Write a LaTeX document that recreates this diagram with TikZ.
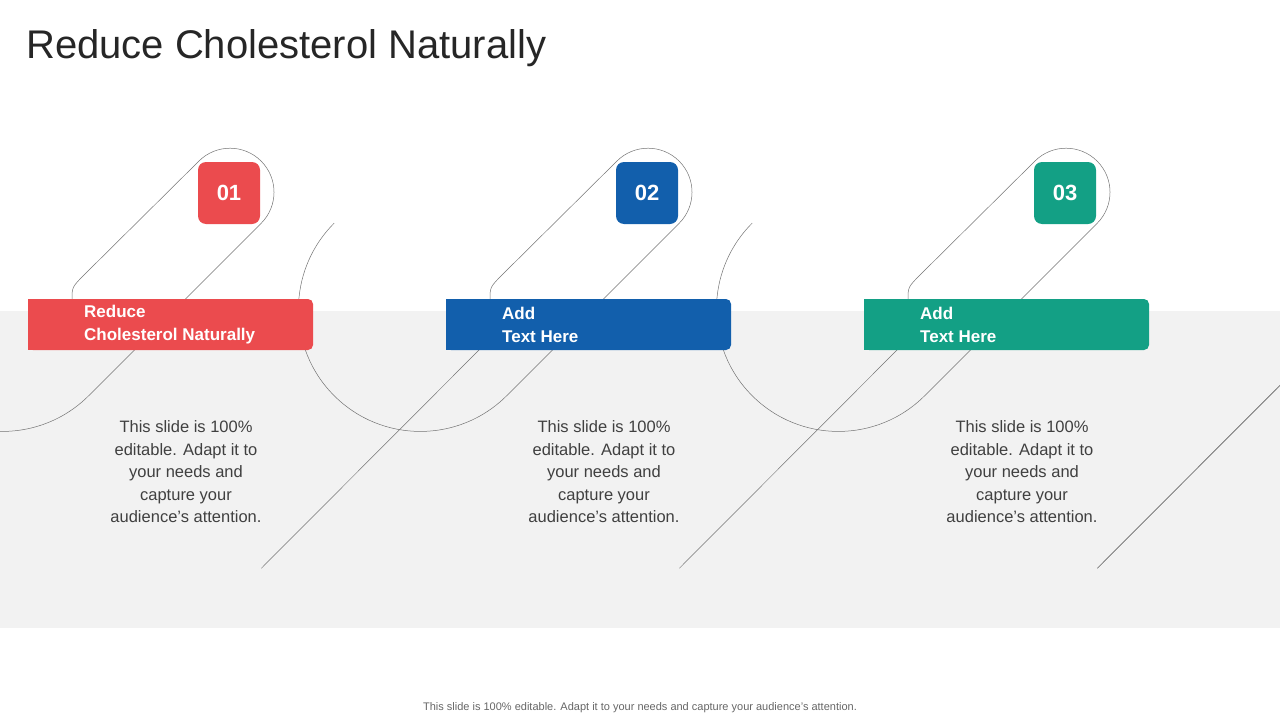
\documentclass[tikz,border=0pt]{standalone}
\usepackage{fontspec}
\setmainfont{Liberation Sans}
\definecolor{cred}{HTML}{EB4B4E}
\definecolor{cblue}{HTML}{125FAC}
\definecolor{cgreen}{HTML}{13A085}
\definecolor{band}{HTML}{F2F2F2}
\definecolor{txt}{HTML}{404040}
\begin{document}
\begin{tikzpicture}[x=1pt,y=-1pt,
  wire/.style={draw=black!55,line width=0.5pt},
  numbox/.style={rounded corners=8pt,minimum width=62pt,minimum height=62pt,inner sep=0,text=white,font=\fontsize{22}{24}\selectfont\bfseries},
  barlab/.style={anchor=west,align=left,text=white,inner sep=0,font=\fontsize{17}{23}\selectfont\bfseries},
  body/.style={align=center,text=txt,inner sep=0,font=\fontsize{16.5}{22.5}\selectfont}]
\useasboundingbox (0,0) rectangle (1280,720);
\fill[band] (0,311) rectangle (1280,628);
\node[anchor=west,text=black!85,inner sep=0,font=\fontsize{40}{44}\selectfont] (title) at (26,48) {Reduce Cholesterol Naturally};
% wires
\foreach \k in {0,1,2}{
  \begin{scope}[xshift=\k*418]
  % top arc and right line to big circle, around, lower line
  \draw[wire] (85,274) -- (198.9,161.1) arc[start angle=-135,end angle=45,radius=44] -- (88.7,395.7) arc[start angle=-135,end angle=45,radius=-122];
  \end{scope}}
\draw[wire] (72,305) -- (72,300) .. controls (72,287) .. (85,274);
\foreach \k in {0,1,2}{
  \begin{scope}[xshift=\k*418]
  \draw[wire] (261.3,568.3) -- (489,340);
  \end{scope}}
\foreach \k in {1,2}{
  \begin{scope}[xshift=\k*418]
  \draw[wire] (71,340) .. controls (72,320) .. (72,300) .. controls (72,287) .. (85,274);
  \end{scope}}
\draw[wire] (1097.3,568.3) -- (1280,385.6);
% bars
\foreach \k/\c/\n/\la/\lb in {0/cred/01/Reduce/Cholesterol Naturally,1/cblue/02/Add/Text Here,2/cgreen/03/Add/Text Here}{
  \begin{scope}[xshift=\k*418]
  \fill[\c,rounded corners=5pt] (28,299) -- (313,299) -- (313,350) -- (28,350) [sharp corners] -- cycle;
  \fill[\c] (28,299) rectangle (40,350);
  \node[numbox,fill=\c] (n\k) at (229,193) {\n};
  \node[barlab] (b\k) at (84,324.5) {\la\\\lb};
  \node[body] (t\k) at (186,472) {This slide is 100\%\\editable. Adapt it to\\your needs and\\capture your\\audience's attention.};
  \end{scope}}
\node[text=black!60,inner sep=0,font=\fontsize{11}{13}\selectfont] (foot) at (640,708) {This slide is 100\% editable. Adapt it to your needs and capture your audience's attention.};
\end{tikzpicture}
\end{document}
